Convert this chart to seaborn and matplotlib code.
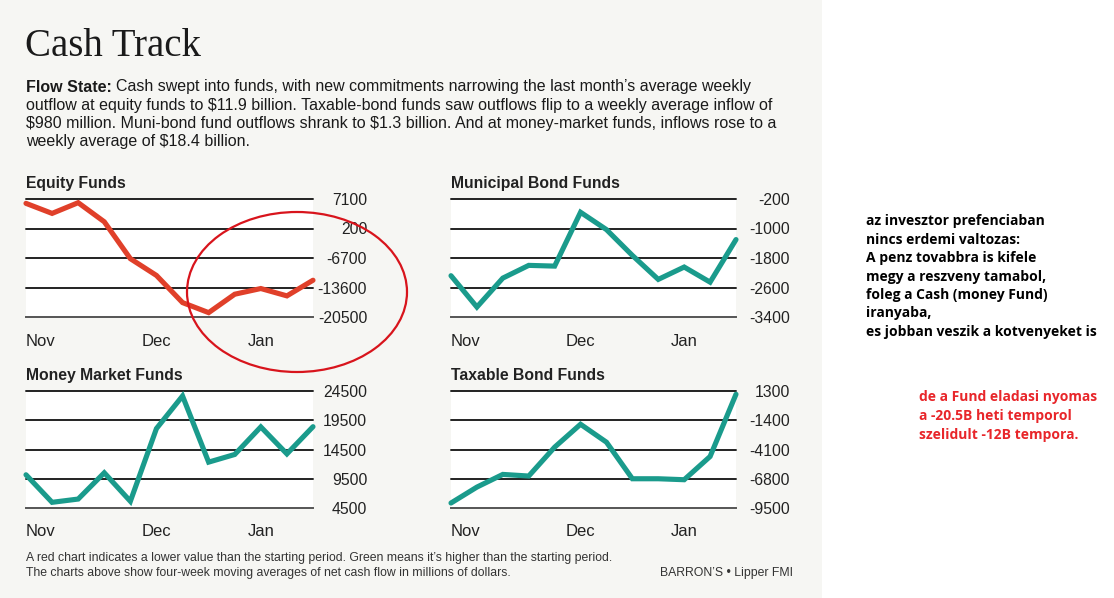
import numpy as np
import pandas as pd
import matplotlib
matplotlib.use("Agg")
import matplotlib.pyplot as plt
import seaborn as sns
from matplotlib.patches import Ellipse, Rectangle

# heti idopontok (12 het), tengelyfeliratok
weeks = list(range(12))
month_labels = ["Nov", "Dec", "Jan"]
month_pos = [0, 5, 9]

equity = [6080, 3730, 6240, 1770, -6860, -10780, -17130, -19480, -15170, -13840, -15560, -11900]
equity_ticks = [7100, 200, -6700, -13600, -20500]

muni = [-2280, -3130, -2345, -2000, -2020, -560, -1030, -1730, -2380, -2045, -2455, -1300]
muni_ticks = [-200, -1000, -1800, -2600, -3400]

money = [10180, 5470, 6030, 10520, 5650, 18080, 23650, 12340, 13650, 18360, 13750, 18400]
money_ticks = [24500, 19500, 14500, 9500, 4500]

taxable = [-9040, -7570, -6400, -6550, -3885, -1770, -3425, -6800, -6800, -6890, -4745, 1000]
taxable_ticks = [1300, -1400, -4100, -6800, -9500]

panels = [
    ("Equity Funds", equity, equity_ticks, "#e0402a"),
    ("Municipal Bond Funds", muni, muni_ticks, "#1a9b8c"),
    ("Money Market Funds", money, money_ticks, "#1a9b8c"),
    ("Taxable Bond Funds", taxable, taxable_ticks, "#1a9b8c"),
]

W, H = 1114, 598
sns.set_style("white")
plt.rcParams["font.family"] = ["Liberation Sans", "DejaVu Sans"]

fig = plt.figure(figsize=(W / 100, H / 100), dpi=100)
fig.patch.set_facecolor("white")

def fx(px):
    return px / W

def fy(py):
    return 1 - py / H

# a grafika halvany hattere
fig.patches.append(Rectangle((0, 0), fx(822), 1, transform=fig.transFigure,
                             facecolor="#f6f6f3", edgecolor="none", zorder=-5))

# tengelyek helye pixelben: (bal, felso, jobb, also)
boxes = [(26, 199, 313, 317), (451, 199, 736, 317),
         (26, 391, 313, 508), (451, 391, 736, 508)]

for (title, vals, ticks, color), (x0, y0, x1, y1) in zip(panels, boxes):
    ax = fig.add_axes([fx(x0), fy(y1), fx(x1 - x0), (y1 - y0) / H])
    ax.set_facecolor("white")
    df = pd.DataFrame({"week": weeks, "value": vals})
    sns.lineplot(data=df, x="week", y="value", ax=ax, color=color,
                 linewidth=3.7, solid_joinstyle="miter", clip_on=False, zorder=5)
    ax.set_xlim(0, 11)
    ax.set_ylim(min(ticks), max(ticks))
    for t in ticks[:-1]:
        ax.axhline(t, color="#222222", linewidth=1.4, zorder=2, clip_on=False)
    for s in ["top", "left", "right"]:
        ax.spines[s].set_visible(False)
    ax.spines["bottom"].set_color("#555555")
    ax.spines["bottom"].set_linewidth(1.4)
    ax.set_xlabel("")
    ax.set_ylabel("")
    ax.set_xticks(weeks)
    ax.set_xticklabels([])
    ax.tick_params(axis="x", length=5, width=1.5, color="#9a9a9a", direction="out")
    ax.yaxis.tick_right()
    ax.set_yticks(ticks)
    ax.set_yticklabels([str(t) for t in ticks], fontsize=11.3,
                       color="#222222", ha="right")
    ax.tick_params(axis="y", length=0, pad=39)
    ax.text(0, 1.095, title, transform=ax.transAxes, fontsize=11.3, fontweight="bold",
            color="#222222", va="baseline", ha="left")
    for lab, pos in zip(month_labels, month_pos):
        ax.text(pos, -0.14, lab, transform=ax.get_xaxis_transform(), fontsize=12,
                color="#222222", va="top",
                ha="left" if pos == 0 else "center")

fig.text(fx(25), fy(47), "Cash Track", fontsize=28, family=["Liberation Serif"],
         color="#1a1a1a", va="center", ha="left")

sub_lines = [
    "Cash swept into funds, with new commitments narrowing the last month\u2019s average weekly",
    "outflow at equity funds to \\$11.9 billion. Taxable-bond funds saw outflows flip to a weekly average inflow of",
    "\\$980 million. Muni-bond fund outflows shrank to \\$1.3 billion. And at money-market funds, inflows rose to a",
    "weekly average of \\$18.4 billion.",
]
for i, line in enumerate(sub_lines):
    y = fy(87 + i * 18.2)
    if i == 0:
        t = fig.text(fx(26), y, "Flow State:", fontsize=11.5,
                     fontweight="bold", color="#1a1a1a", va="center", ha="left")
        fig.canvas.draw()
        bb = t.get_window_extent()
        fig.text(bb.x1 / W + fx(4), y, line, fontsize=11.5,
                 color="#1a1a1a", va="center", ha="left")
    else:
        fig.text(fx(26), y, line, fontsize=11.5,
                 color="#1a1a1a", va="center", ha="left")

fig.text(fx(26), fy(558), "A red chart indicates a lower value than the starting period. "
         "Green means it\u2019s higher than the starting period.",
         fontsize=8.8, color="#333333", va="center", ha="left")
fig.text(fx(26), fy(573), "The charts above show four-week moving averages of net cash flow "
         "in millions of dollars.", fontsize=8.8, color="#333333", va="center", ha="left")
fig.text(fx(793), fy(573), "BARRON\u2019S \u2022 Lipper FMI", fontsize=8.8,
         color="#333333", va="center", ha="right")

# kezzel rajzolt piros ellipszis
fig.patches.append(Ellipse((fx(297), fy(292)), fx(220), 160 / H, transform=fig.transFigure,
                           fill=False, edgecolor="#d8141c", linewidth=1.6, zorder=10))

notes_black = [
    "az invesztor prefenciaban",
    "nincs erdemi valtozas:",
    "A penz tovabbra is kifele",
    "megy a reszveny tamabol,",
    "foleg a Cash (money Fund)",
    "iranyaba,",
    "es jobban veszik a kotvenyeket is",
]
for i, line in enumerate(notes_black):
    fig.text(fx(866), fy(221 + i * 18.5), line, fontsize=10, fontweight="bold",
             family=["Open Sans", "DejaVu Sans"], color="black", va="center", ha="left")

notes_red = [
    "de a Fund eladasi nyomas",
    "a -20.5B heti temporol",
    "szelidult -12B tempora.",
]
for i, line in enumerate(notes_red):
    fig.text(fx(919), fy(397 + i * 18.8), line, fontsize=10, fontweight="bold",
             family=["Open Sans", "DejaVu Sans"], color="#e8262a", va="center", ha="left")

fig.savefig("out.png", dpi=100, facecolor=fig.get_facecolor())
